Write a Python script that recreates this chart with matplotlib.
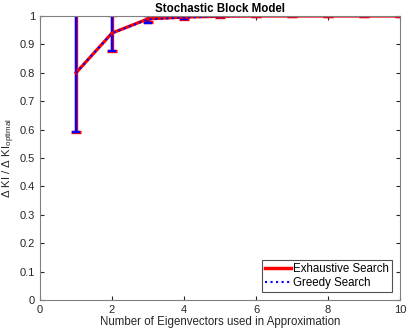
import matplotlib
matplotlib.use("Agg")
import matplotlib.pyplot as plt
from matplotlib.lines import Line2D
import numpy as np

n_vec = [1, 2, 3, 4, 5, 6, 7, 8, 9, 10]
exhaustive = [0.80, 0.94, 0.990, 0.996, 0.999, 1.0, 1.0, 1.0, 1.0, 1.0]
exhaustive_err = [0.21, 0.063, 0.012, 0.005, 0.002, 0.001, 0.001, 0.001, 0.001, 0.001]
greedy = [0.80, 0.94, 0.988, 0.995, 0.999, 1.0, 1.0, 1.0, 1.0, 1.0]
greedy_err = [0.21, 0.063, 0.012, 0.005, 0.002, 0.001, 0.001, 0.001, 0.001, 0.001]

plt.rcParams["font.family"] = ["Liberation Sans", "DejaVu Sans"]
plt.rcParams["mathtext.fontset"] = "custom"
plt.rcParams["mathtext.rm"] = "Liberation Sans"

fig = plt.figure(figsize=(4.07, 3.29), dpi=100)
ax = fig.add_axes([0.0983, 0.0881, 0.8845, 0.8632])

ax.errorbar(n_vec, exhaustive, yerr=exhaustive_err, color="red", lw=2.3,
            elinewidth=2.4, capsize=3.5, capthick=2.4)
ax.errorbar(n_vec, greedy, yerr=greedy_err, color="blue", lw=1.5, ls=":",
            elinewidth=1.7, capsize=3.2, capthick=1.7)

ax.set_xlim(0, 10)
ax.set_ylim(0, 1)
ax.set_xticks(np.arange(0, 11, 2))
ax.set_yticks(np.arange(0, 1.01, 0.1))
ax.set_yticklabels(["0", "0.1", "0.2", "0.3", "0.4", "0.5", "0.6", "0.7", "0.8", "0.9", "1"])
ax.tick_params(direction="in", length=3, labelsize=8, colors="#262626",
               top=True, right=True)
for s in ax.spines.values():
    s.set_color("#808080")
    s.set_linewidth(0.8)

ax.set_xlabel("Number of Eigenvectors used in Approximation", fontsize=8.3, color="#262626", labelpad=1)
ax.set_ylabel(r"$\Delta$ KI / $\Delta$ KI$_{\mathrm{optimal}}$", fontsize=8.2, color="#262626", labelpad=2)
ax.set_title("Stochastic Block Model", fontsize=8.3, fontweight="bold", pad=3)

handles = [Line2D([], [], color="red", lw=2.5),
           Line2D([], [], color="blue", lw=1.5, ls=":")]
leg = ax.legend(handles, ["Exhaustive Search", "Greedy Search"], loc="lower right",
                fontsize=8.3, frameon=True, fancybox=False,
                handlelength=2.3, borderpad=0.25, labelspacing=0.15, handletextpad=0.15,
                borderaxespad=0.7)
leg.get_frame().set_edgecolor("#262626")
leg.get_frame().set_linewidth(0.8)

fig.savefig("out.png", dpi=100)
